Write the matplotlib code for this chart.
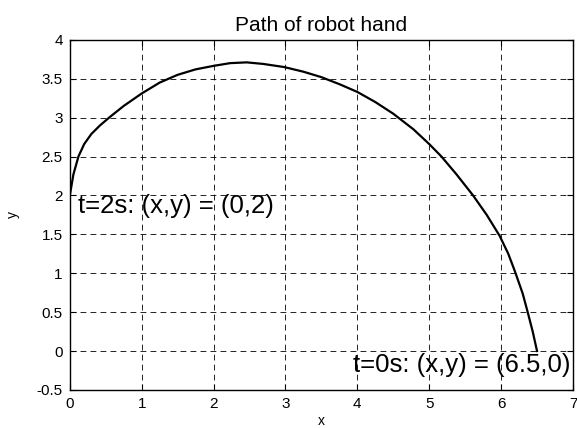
import matplotlib
matplotlib.use("Agg")
import matplotlib.pyplot as plt

# Hand trajectory, sampled from t=0s (right end) to t=2s (left end)
path_x = [6.50, 6.44, 6.37, 6.30, 6.19, 6.10, 5.98, 5.80, 5.61, 5.38, 5.17, 5.00,
          4.78, 4.50, 4.25, 4.00, 3.75, 3.50, 3.25, 2.98, 2.69, 2.46, 2.23, 2.00,
          1.75, 1.50, 1.25, 1.00, 0.75, 0.56, 0.42, 0.30, 0.20, 0.12, 0.05, 0.00]
path_y = [0.00, 0.25, 0.50, 0.74, 1.03, 1.25, 1.48, 1.75, 2.00, 2.27, 2.50, 2.66,
          2.85, 3.05, 3.20, 3.33, 3.43, 3.52, 3.59, 3.65, 3.69, 3.71, 3.70, 3.665,
          3.62, 3.55, 3.45, 3.31, 3.15, 3.01, 2.90, 2.79, 2.66, 2.50, 2.27, 2.00]

x_ticks = [0, 1, 2, 3, 4, 5, 6, 7]
y_ticks = [-0.5, 0, 0.5, 1, 1.5, 2, 2.5, 3, 3.5, 4]
y_tick_labels = ["-0.5", "0", "0.5", "1", "1.5", "2", "2.5", "3", "3.5", "4"]

plt.rcParams["font.family"] = ["Liberation Sans", "DejaVu Sans"]

fig = plt.figure(figsize=(5.77, 4.28), dpi=100)
ax = fig.add_axes([0.121, 0.089, 0.872, 0.818])

ax.plot(path_x, path_y, color="black", linewidth=1.6, solid_joinstyle="round")

ax.text(3.94, -0.18, "t=0s: (x,y) = (6.5,0)", fontsize=18.5, va="center", ha="left")
ax.text(0.11, 1.87, "t=2s: (x,y) = (0,2)", fontsize=18.5, va="center", ha="left")

ax.set_xlim(0, 7)
ax.set_ylim(-0.5, 4)
ax.set_xticks(x_ticks)
ax.set_yticks(y_ticks)
ax.set_yticklabels(y_tick_labels)
ax.tick_params(direction="in", top=True, right=True, labelsize=11, length=4, pad=5)

ax.grid(True, color="black", linestyle=(0, (7, 5)), linewidth=0.6)
for s in ax.spines.values():
    s.set_linewidth(1.0)

ax.set_title("Path of robot hand", fontsize=15, pad=6)
ax.set_xlabel("x", fontsize=10, labelpad=2)
ax.set_ylabel("y", fontsize=10, labelpad=12)

fig.savefig("out.png", dpi=100)
